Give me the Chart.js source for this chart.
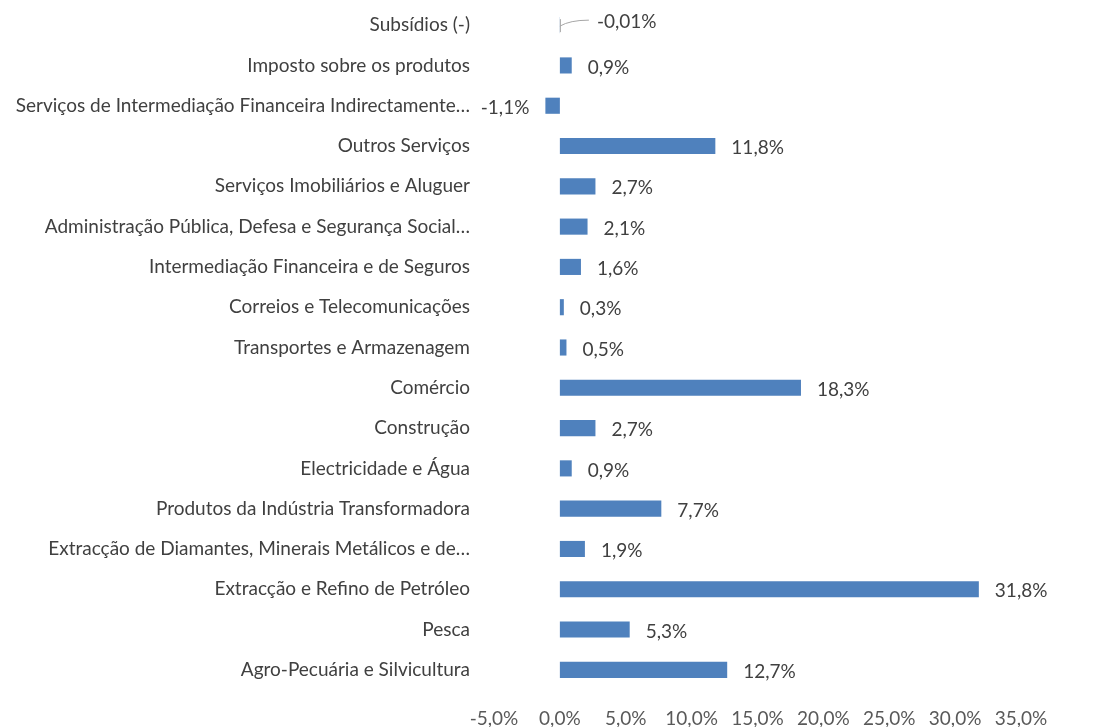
<!DOCTYPE html>
<html>
<head>
<meta charset="utf-8">
<script src="https://cdn.jsdelivr.net/npm/chart.js@4"></script>
<style>
  html, body { margin: 0; padding: 0; background: #fff; overflow: hidden; }
  #wrap { width: 1108px; height: 727px; }
</style>
</head>
<body>
<div id="wrap"><canvas id="chart"></canvas></div>
<script>
// categories top -> bottom
const categories = [
    "Subsídios (-)",
    "Imposto sobre os produtos",
    "Serviços de Intermediação Financeira Indirectamente…",
    "Outros Serviços",
    "Serviços Imobiliários e Aluguer",
    "Administração Pública, Defesa e Segurança Social…",
    "Intermediação Financeira e de Seguros",
    "Correios e Telecomunicações",
    "Transportes e Armazenagem",
    "Comércio",
    "Construção",
    "Electricidade e Água",
    "Produtos da Indústria Transformadora",
    "Extracção de Diamantes, Minerais Metálicos e de…",
    "Extracção e Refino de Petróleo",
    "Pesca",
    "Agro-Pecuária e Silvicultura"
];
const shares = [-0.01, 0.9, -1.1, 11.8, 2.7, 2.1, 1.6, 0.3, 0.5, 18.3, 2.7, 0.9, 7.7, 1.9, 31.8, 5.3, 12.7];
const shareLabels = ["-0,01%", "0,9%", "-1,1%", "11,8%", "2,7%", "2,1%", "1,6%", "0,3%", "0,5%", "18,3%", "2,7%", "0,9%", "7,7%", "1,9%", "31,8%", "5,3%", "12,7%"];
const axisMin = -5, axisMax = 35, axisStep = 5;

const FONT = "Lato, 'Open Sans', sans-serif";
const SIZE = 19;

const fmtPct = v => v.toFixed(1).replace(".", ",") + "%";

// data labels, Excel style
const dataLabels = {
    id: "dataLabels",
    afterDatasetsDraw(chart) {
        const ctx = chart.ctx;
        const meta = chart.getDatasetMeta(0);
        const zeroX = chart.scales.x.getPixelForValue(0);
        ctx.save();
        ctx.font = SIZE + "px " + FONT;
        ctx.fillStyle = "#404040";
        ctx.textBaseline = "middle";
        meta.data.forEach((bar, i) => {
            const v = shares[i];
            const y = bar.y;
            if (Math.abs(v) < 0.05) {
                // tiny value: label moved out with a leader line
                ctx.strokeStyle = "#a6a6a6";
                ctx.lineWidth = 1;
                ctx.beginPath();
                ctx.moveTo(zeroX + 0.5, y + 7);
                ctx.lineTo(zeroX + 0.5, y - 6);
                ctx.moveTo(zeroX, y + 1);
                ctx.quadraticCurveTo(zeroX + 10, y - 5, zeroX + 29, y - 5);
                ctx.stroke();
                ctx.textAlign = "left";
                ctx.fillText(shareLabels[i], zeroX + 37, y - 3);
            } else if (v < 0) {
                ctx.textAlign = "right";
                ctx.fillText(shareLabels[i], bar.x - 16, y + 2);
            } else {
                ctx.textAlign = "left";
                ctx.fillText(shareLabels[i], bar.x + 16, y + 2);
            }
        });
        ctx.restore();
    }
};

new Chart(document.getElementById("chart"), {
    type: "bar",
    data: {
        labels: categories,
        datasets: [{
            data: shares,
            backgroundColor: "#4f81bd",
            borderWidth: 0,
            categoryPercentage: 0.4,
            barPercentage: 1.0
        }]
    },
    options: {
        indexAxis: "y",
        responsive: true,
        maintainAspectRatio: false,
        animation: false,
        layout: { padding: { top: 5, right: 87, left: 0, bottom: 0 } },
        plugins: {
            legend: { display: false },
            tooltip: { enabled: false }
        },
        scales: {
            x: {
                min: axisMin,
                max: axisMax,
                grid: { display: false, drawTicks: false },
                border: { display: false },
                ticks: {
                    stepSize: axisStep,
                    padding: 17,
                    maxRotation: 0,
                    color: "#595959",
                    font: { family: FONT, size: SIZE },
                    callback: v => fmtPct(v)
                },
                afterFit: s => { s.height = 37; }
            },
            y: {
                grid: { display: false, drawTicks: false },
                border: { display: false },
                ticks: {
                    padding: 24,
                    color: "#404040",
                    font: { family: FONT, size: SIZE },
                    autoSkip: false
                },
                afterFit: s => {
                    s.width = 494;
                    s.paddingTop = 0;
                    s.paddingBottom = 0;
                }
            }
        }
    },
    plugins: [dataLabels]
});
</script>
</body>
</html>
